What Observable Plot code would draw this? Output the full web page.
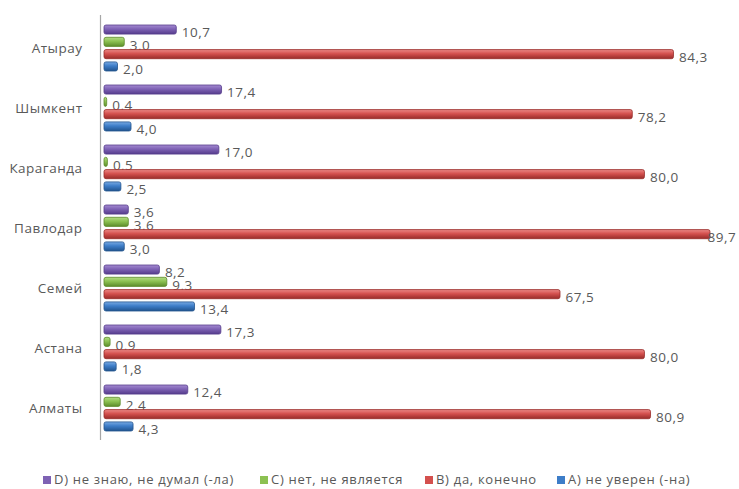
<!DOCTYPE html>
<html>
<head>
<meta charset="utf-8">
<script src="https://cdn.jsdelivr.net/npm/d3@7"></script>
<script src="https://cdn.jsdelivr.net/npm/@observablehq/plot@0.6"></script>
<style>
  body { margin: 0; background: #fff; font-family: "Open Sans", "Noto Sans", sans-serif; }
  #chart { width: 739px; }
  #chart svg { display: block; }
  .legend { position: relative; margin-top: 25px; width: 739px; height: 18px; font-size: 13px; letter-spacing: 0.7px; color: #595959; white-space: nowrap; }
  .legend .item { position: absolute; top: 0; line-height: 18px; }
  .legend span.sw { display: inline-block; width: 8px; height: 8px; margin-right: 3px; vertical-align: 0px; }
</style>
</head>
<body>
<div id="chart"></div>
<script>
const cities = ["Атырау", "Шымкент", "Караганда", "Павлодар", "Семей", "Астана", "Алматы"];
const seriesNames = ["D) не знаю, не думал (-ла)", "C) нет, не является", "B) да, конечно", "A) не уверен (-на)"];
const seriesColors = ["#7e62b4", "#8cc152", "#d4504e", "#3d7dc8"];
const lightColors = ["#a58bd2", "#b3dc83", "#ec8a88", "#78a9e3"];
const darkColors = ["#563c8c", "#5d8c2c", "#982c2a", "#22548e"];
const valuesD = [10.7, 17.4, 17.0, 3.6, 8.2, 17.3, 12.4];
const valuesC = [3.0, 0.4, 0.5, 3.6, 9.3, 0.9, 2.4];
const valuesB = [84.3, 78.2, 80.0, 89.7, 67.5, 80.0, 80.9];
const valuesA = [2.0, 4.0, 2.5, 3.0, 13.4, 1.8, 4.3];
const allValues = [valuesD, valuesC, valuesB, valuesA];
const legendX = [43, 260, 425, 557];

const slot = 12.3;
const fmt = v => v.toFixed(1).replace(".", ",");
const labelStyle = {fill: "#595959", fontSize: 13.5, textAnchor: "start"};

const marks = [];
allValues.forEach((vals, i) => {
  const data = cities.map((c, k) => ({city: c, value: vals[k]}));
  marks.push(Plot.barX(data, {
    x: "value", y: "city",
    fill: `url(#grad${i})`, stroke: darkColors[i], strokeWidth: 0.8,
    rx: 2,
    insetTop: i * slot + 1, insetBottom: (3 - i) * slot + 1
  }));
  const dy = (i - 1.5) * slot + 3;
  marks.push(Plot.text(data.filter(d => d.value < 88), {
    x: "value", y: "city", text: d => fmt(d.value), dx: 5, dy, ...labelStyle
  }));
  marks.push(Plot.text(data.filter(d => d.value >= 88), {
    x: "value", y: "city", text: d => fmt(d.value), dx: -3, dy, ...labelStyle
  }));
});
marks.push(Plot.ruleX([0], {stroke: "#a6a6a6", strokeWidth: 1.2, dx: -4, insetTop: -6, insetBottom: -6}));

const chart = Plot.plot({
  width: 739,
  height: 445,
  marginLeft: 104,
  marginRight: 27,
  marginTop: 21,
  marginBottom: 11,
  style: {fontFamily: "'Open Sans', 'Noto Sans', sans-serif", background: "#fff", letterSpacing: "0.5px"},
  x: {domain: [0, 90], axis: null},
  y: {domain: cities, paddingInner: 0.2, paddingOuter: 0, axis: null},
  marks: [
    Plot.axisY({tickSize: 0, tickPadding: 22, fontSize: 13.5, color: "#595959", label: null}),
    ...marks
  ]
});

// gradients for the cylinder look
const ns = "http://www.w3.org/2000/svg";
const defs = document.createElementNS(ns, "defs");
seriesColors.forEach((c, i) => {
  const g = document.createElementNS(ns, "linearGradient");
  g.setAttribute("id", `grad${i}`);
  g.setAttribute("x1", "0"); g.setAttribute("y1", "0");
  g.setAttribute("x2", "0"); g.setAttribute("y2", "1");
  [[0, lightColors[i]], [0.45, c], [1, darkColors[i]]].forEach(([o, col]) => {
    const s = document.createElementNS(ns, "stop");
    s.setAttribute("offset", o);
    s.setAttribute("stop-color", col);
    g.appendChild(s);
  });
  defs.appendChild(g);
});
chart.insertBefore(defs, chart.firstChild);
document.getElementById("chart").appendChild(chart);

const legend = document.createElement("div");
legend.className = "legend";
seriesNames.forEach((n, i) => {
  const item = document.createElement("div");
  item.className = "item";
  item.style.left = legendX[i] + "px";
  item.innerHTML = `<span class="sw" style="background:${seriesColors[i]}"></span>${n}`;
  legend.appendChild(item);
});
document.getElementById("chart").appendChild(legend);
</script>
</body>
</html>
